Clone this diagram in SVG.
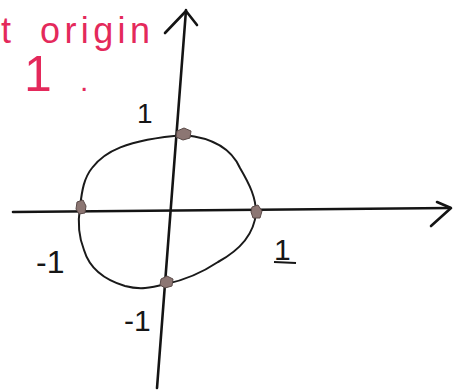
<svg xmlns="http://www.w3.org/2000/svg" width="462" height="392" viewBox="0 0 462 392">
<style>
.ax{fill:none;stroke:#141414;stroke-width:2.6;stroke-linecap:round;stroke-linejoin:round}
.cir{fill:none;stroke:#1a1a1a;stroke-width:2;stroke-linejoin:round}
.dot{fill:#8c7673;stroke:#5a4a48;stroke-width:1}
.lbl{font-family:"Liberation Sans",Arial,sans-serif;fill:#161616}
.red{font-family:"Liberation Sans",Arial,sans-serif;fill:#e4295b}
</style>
<rect width="462" height="392" fill="#ffffff"/>
<g id="note">
<text class="red" font-size="36" y="43"><tspan x="1">t</tspan><tspan x="40" textLength="110" lengthAdjust="spacing">origin</tspan></text>
<text class="red" font-size="50" y="91"><tspan x="24">1</tspan><tspan x="80" font-size="30">.</tspan></text>
</g>
<g id="connectors">
<path class="ax" d="M13,212 L450,208"/>
<path class="ax" d="M431,226 L451,208 L437,202"/>
<path class="ax" d="M186,10 L157,388"/>
<path class="ax" d="M165,33 L186,11 L197,25"/>
</g>
<g id="unit-circle">
<path class="cir" d="M184,135 C215,138 232,150 240,168 C250,185 256,198 256,213 C254,235 240,250 218,262 C200,274 185,280 166,284 C150,288 140,290 125,286 C105,280 90,270 84,250 C78,235 78,220 80,207 C82,190 84,178 92,168 C104,152 125,140 184,135 Z"/>
</g>
<g id="point-top"><path class="dot" d="M177,131 L184,128 L191,131 L190,138 L183,140 L176,137 Z"/></g>
<g id="point-left"><path class="dot" d="M77,202 L83,200 L86,206 L85,213 L79,214 L76,209 Z"/></g>
<g id="point-right"><path class="dot" d="M252,207 L258,205 L262,211 L260,218 L253,218 L251,212 Z"/></g>
<g id="point-bottom"><path class="dot" d="M161,279 L167,276 L173,279 L172,286 L165,288 L160,285 Z"/></g>
<g id="labels">
<text class="lbl" font-size="28" x="137" y="123">1</text>
<text class="lbl" font-size="32" x="36" y="273">-1</text>
<text class="lbl" font-size="30" x="274" y="260">1</text>
<line x1="274" y1="262" x2="296" y2="263" stroke="#161616" stroke-width="2"/>
<text class="lbl" font-size="30" x="124" y="331">-1</text>
</g>
</svg>
